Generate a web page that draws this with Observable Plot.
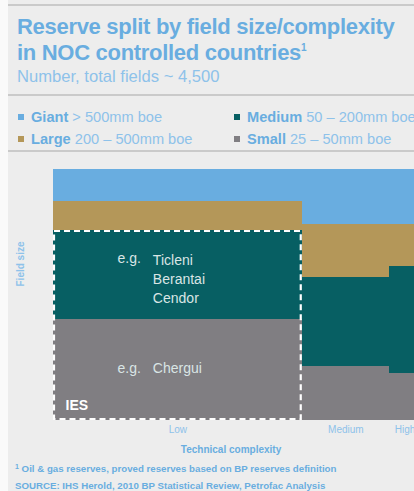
<!DOCTYPE html>
<html><head><meta charset="utf-8">
<script src="https://cdn.jsdelivr.net/npm/d3@7"></script>
<script src="https://cdn.jsdelivr.net/npm/@observablehq/plot@0.6"></script>
<style>
html,body{margin:0;padding:0;width:414px;height:491px;overflow:hidden;background:#fafafa;font-family:"Liberation Sans",Arial,sans-serif;}
#panel{position:absolute;left:8px;top:0;width:420px;height:491px;background:#ededed;}
.rule{position:absolute;left:8px;width:420px;height:2px;background:#cacaca;}
#title{position:absolute;left:17px;top:14px;font-size:22px;font-weight:bold;line-height:26px;color:#69ade0;letter-spacing:-0.3px;white-space:nowrap;}
#title sup{font-size:10px;line-height:0;position:relative;top:-9px;vertical-align:baseline;letter-spacing:0;}
#subtitle{position:absolute;left:17px;top:68px;font-size:16.6px;line-height:18px;color:#8ec2ea;white-space:nowrap;}
#legend{position:absolute;left:0;top:106px;width:430px;height:44px;}
.li{position:absolute;font-size:14.6px;line-height:22px;white-space:nowrap;color:#8ec2ea;}
.li b{color:#69ade0;}
.sw{position:absolute;width:6px;height:6px;}
#chart{position:absolute;left:0;top:160px;width:425px;}
#notes{position:absolute;left:15px;top:461px;font-size:9.7px;font-weight:bold;line-height:16px;color:#69ade0;white-space:nowrap;}
#notes .fn{font-size:7px;position:relative;top:-3px;}
</style></head>
<body>
<div id="panel"></div>
<div class="rule" style="top:4px"></div>
<div class="rule" style="top:94px"></div>
<div class="rule" style="top:150px"></div>
<div id="title">Reserve split by field size/complexity<br>in NOC controlled countries<sup>1</sup></div>
<div id="subtitle">Number, total fields ~ 4,500</div>
<div id="legend"></div>
<div id="chart"></div>
<div id="notes"><span class="fn">1</span> Oil &amp; gas reserves, proved reserves based on BP reserves definition<br>SOURCE: IHS Herold, 2010 BP Statistical Review, Petrofac Analysis</div>
<script>
// ---- data ----
const sizes = ["Small", "Medium", "Large", "Giant"];            // bottom to top
const sizeRanges = ["25 – 50mm boe", "50 – 200mm boe", "200 – 500mm boe", "> 500mm boe"];
const sizeColors = ["#807e82", "#075f63", "#b49759", "#69ade0"];
const complexity = ["Low", "Medium", "High"];
const fieldCounts = [3050, 1070, 380];                            // column widths (number of fields)
const smallShare  = [40.2, 21.5, 18.7];
const mediumShare = [35.5, 35.5, 42.6];
const largeShare  = [11.6, 21.1, 16.7];
const giantShare  = [12.7, 21.9, 22.0];
const examples = [
  {size: "Medium", names: "Ticleni\nBerantai\nCendor"},
  {size: "Small", names: "Chergui"}
];

// ---- legend ----
const legendOrder = ["Giant", "Large", "Medium", "Small"];
const legend = document.getElementById("legend");
legendOrder.forEach((s, k) => {
  const i = sizes.indexOf(s);
  const col = Math.floor(k / 2), row = k % 2;
  const left = col === 0 ? 18 : 234;
  const top = row * 22;
  const sw = document.createElement("div");
  sw.className = "sw";
  sw.style.left = left + "px";
  sw.style.top = (top + 8) + "px";
  sw.style.background = sizeColors[i];
  legend.appendChild(sw);
  const t = document.createElement("div");
  t.className = "li";
  t.style.left = (left + 13) + "px";
  t.style.top = top + "px";
  t.innerHTML = `<b>${s}</b> ${sizeRanges[i]}`;
  legend.appendChild(t);
});

// ---- table ----
const shares = [smallShare, mediumShare, largeShare, giantShare];
const xStarts = d3.cumsum([0, ...fieldCounts]).slice(0, fieldCounts.length);
const table = [];
complexity.forEach((c, j) => {
  let acc = 0;
  sizes.forEach((s, i) => {
    const v = shares[i][j];
    table.push({complexity: c, size: s, x1: xStarts[j], x2: xStarts[j] + fieldCounts[j], y1: acc, y2: acc + v});
    acc += v;
  });
});
const centers = complexity.map((c, j) => xStarts[j] + fieldCounts[j] / 2);
const tickLabel = new Map(centers.map((v, j) => [v, complexity[j]]));
const lowRows = table.filter(d => d.complexity === "Low");
const ex = examples.map(e => {
  const r = lowRows.find(d => d.size === e.size);
  return {...e, x: centers[0], y: (r.y1 + r.y2) / 2};
});
const ies = {x1: 0, x2: fieldCounts[0], y1: 0, y2: smallShare[0] + mediumShare[0]};

const blue = "#69ade0", light = "#8ec2ea", exText = "#d9e5e5";
const plot = Plot.plot({
  width: 425, height: 300,
  marginLeft: 53, marginRight: 5, marginTop: 9, marginBottom: 40,
  style: {background: "transparent", maxWidth: "none", overflow: "visible", fontFamily: "'Liberation Sans', Arial, sans-serif", color: light},
  x: {domain: [0, d3.sum(fieldCounts)], axis: null},
  y: {domain: [0, 100], axis: null},
  color: {domain: sizes, range: sizeColors},
  marks: [
    Plot.rect(table, {x1: "x1", x2: "x2", y1: "y1", y2: "y2", fill: "size", shapeRendering: "crispEdges"}),
    Plot.rect([ies], {x1: "x1", x2: "x2", y1: "y1", y2: "y2", fill: "none", stroke: "white", strokeWidth: 2.2, strokeDasharray: "6,4", inset: 1}),
    Plot.text(ex.slice(0, 1), {x: "x", y: "y", text: () => "e.g.", dx: -37, dy: -16.5, textAnchor: "end", fontSize: 14, fill: exText}),
    Plot.text(ex.slice(0, 1), {x: "x", y: "y", text: "names", dx: -25, dy: 2.5, textAnchor: "start", fontSize: 14, lineHeight: 1.36, fill: exText}),
    Plot.text(ex.slice(1), {x: "x", y: "y", text: () => "e.g.", dx: -37, dy: -1.5, textAnchor: "end", fontSize: 14, fill: exText}),
    Plot.text(ex.slice(1), {x: "x", y: "y", text: "names", dx: -25, dy: -1.5, textAnchor: "start", fontSize: 14, fill: exText}),
    Plot.text([ies], {x: "x1", y: "y1", text: () => "IES", dx: 12, dy: -15, textAnchor: "start", lineAnchor: "middle", fontSize: 14, fontWeight: "bold", fill: "white"}),
    Plot.axisX({ticks: centers, tickSize: 0, tickPadding: 5, tickFormat: d => tickLabel.get(d), fontSize: 10, label: null}),
    Plot.text(["Technical complexity"], {frameAnchor: "bottom", lineAnchor: "middle", dy: 29, dx: -6, fontSize: 10, fontWeight: "bold", fill: blue}),
    Plot.text(["Field size"], {frameAnchor: "left", lineAnchor: "middle", rotate: -90, dx: -33, dy: -8.5, fontSize: 10, fontWeight: "bold", fill: light})
  ]
});
document.getElementById("chart").appendChild(plot);
</script>
</body></html>
